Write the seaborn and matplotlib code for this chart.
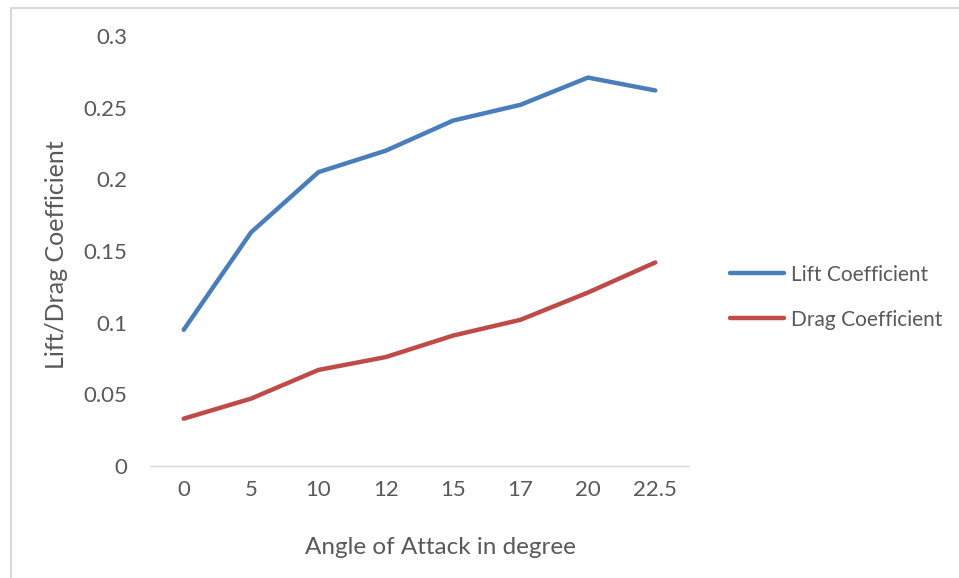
import matplotlib
matplotlib.use("Agg")
import matplotlib.pyplot as plt
from matplotlib.lines import Line2D
import seaborn as sns
import pandas as pd

angles = ["0", "5", "10", "12", "15", "17", "20", "22.5"]
lift = [0.095, 0.163, 0.205, 0.220, 0.241, 0.252, 0.271, 0.262]
drag = [0.033, 0.047, 0.067, 0.076, 0.091, 0.102, 0.121, 0.142]
yticks = [0, 0.05, 0.1, 0.15, 0.2, 0.25, 0.3]
ytick_labels = ["0", "0.05", "0.1", "0.15", "0.2", "0.25", "0.3"]

df = pd.DataFrame({
    "angle": angles * 2,
    "value": lift + drag,
    "series": ["Lift Coefficient"] * len(angles) + ["Drag Coefficient"] * len(angles),
})

sns.set_theme(style="white")
plt.rcParams['font.family'] = ['Lato', 'DejaVu Sans']
txt = "#595959"

fig = plt.figure(figsize=(9.59, 5.78), dpi=100)
ax = fig.add_axes([0.1564, 0.1938, 0.562, 0.7439])

colors = {"Lift Coefficient": "#4A7EBB", "Drag Coefficient": "#BE4B48"}
sns.lineplot(data=df, x="angle", y="value", hue="series", palette=colors,
             linewidth=3.2, ax=ax, legend=False, sort=False,
             solid_capstyle="round")

ax.set_xlim(-0.5, len(angles) - 0.5)
ax.set_ylim(0, 0.3)
ax.set_yticks(yticks)
ax.set_yticklabels(ytick_labels)
ax.tick_params(axis="both", length=0, colors=txt, labelsize=16)
ax.tick_params(axis="x", pad=10)
ax.tick_params(axis="y", pad=16.5)
for s in ["top", "right", "left"]:
    ax.spines[s].set_visible(False)
ax.spines["bottom"].set_color("#D9D9D9")
ax.spines["bottom"].set_linewidth(1)

ax.set_xlabel("Angle of Attack in degree", color=txt, fontsize=17.5)
ax.set_ylabel("Lift/Drag Coefficient", color=txt, fontsize=18)
ax.xaxis.set_label_coords(0.5398, -0.165)
ax.yaxis.set_label_coords(-0.152, 0.491)

handles = [Line2D([0], [0], color=colors[k], lw=3.2, solid_capstyle="round") for k in colors]
leg = fig.legend(handles, list(colors.keys()), loc="center left",
                 bbox_to_anchor=(0.742, 0.486), frameon=False, fontsize=15,
                 handlelength=2.6, labelspacing=1.2, handletextpad=0.3)
for t in leg.get_texts():
    t.set_color(txt)

# outer border (top and left visible)
fig.add_artist(Line2D([0.0115, 1.0], [0.9862, 0.9862], color="#D9D9D9", lw=1.5, transform=fig.transFigure))
fig.add_artist(Line2D([0.0115, 0.0115], [0.0, 0.9862], color="#D9D9D9", lw=1.5, transform=fig.transFigure))

fig.savefig("out.png", dpi=100, facecolor="white")
